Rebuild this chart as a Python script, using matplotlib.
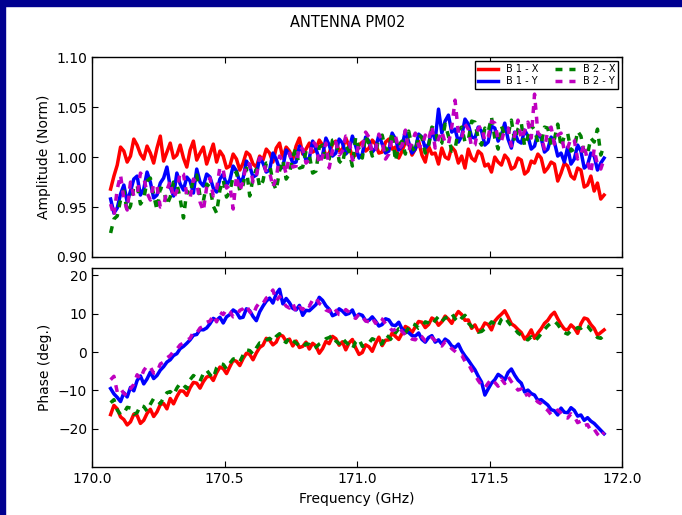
import numpy as np
import matplotlib.pyplot as plt
from matplotlib import rcParams
from matplotlib.patches import Rectangle

rcParams['font.family'] = 'DejaVu Sans'
rcParams['font.size'] = 10
rcParams['xtick.direction'] = 'in'
rcParams['ytick.direction'] = 'in'
rcParams['xtick.top'] = True
rcParams['ytick.right'] = True
rcParams['xtick.major.size'] = 4
rcParams['ytick.major.size'] = 4
rcParams['axes.linewidth'] = 1.0

# channel frequencies (GHz)
freq = np.linspace(170.07, 171.9325, 150)

# normalised amplitude
amp_b1x = [0.968, 0.981, 0.992, 1.010, 1.006, 0.995, 1.001, 1.018, 1.012, 1.003,
           0.998, 1.011, 1.004, 0.994, 1.009, 1.021, 0.996, 1.005, 1.014, 0.999,
           1.002, 1.012, 0.999, 0.990, 1.007, 1.016, 0.997, 1.004, 1.010, 0.993,
           1.003, 1.013, 0.995, 1.006, 1.001, 0.989, 0.991, 1.003, 0.998, 0.987,
           0.994, 1.005, 1.002, 0.993, 0.990, 1.001, 0.997, 1.008, 1.004, 0.995,
           1.009, 1.014, 0.999, 1.010, 1.006, 0.998, 1.011, 1.019, 1.003, 1.008,
           1.014, 1.005, 1.007, 1.017, 1.012, 1.001, 1.004, 1.013, 1.016, 1.006,
           1.008, 1.019, 1.011, 1.000, 1.002, 1.012, 1.015, 1.006, 1.009, 1.017,
           1.013, 1.004, 1.005, 1.015, 1.018, 1.008, 1.010, 0.999, 1.006, 1.015,
           1.013, 1.002, 1.008, 1.016, 1.002, 0.995, 1.011, 1.003, 1.004, 0.993,
           1.009, 1.000, 0.998, 1.010, 1.006, 0.994, 1.001, 0.989, 1.008, 0.999,
           0.996, 1.006, 1.003, 0.991, 0.993, 0.985, 1.000, 0.995, 0.992, 1.002,
           0.998, 0.988, 0.990, 0.999, 0.997, 0.983, 0.986, 0.996, 0.994, 1.003,
           0.999, 0.985, 0.989, 0.995, 0.993, 0.976, 0.984, 0.994, 0.991, 0.981,
           0.978, 0.989, 0.987, 0.970, 0.972, 0.981, 0.966, 0.974, 0.958, 0.962]
amp_b1y = [0.958, 0.944, 0.949, 0.963, 0.972, 0.955, 0.966, 0.978, 0.981, 0.962,
           0.968, 0.985, 0.975, 0.959, 0.962, 0.974, 0.979, 0.990, 0.970, 0.961,
           0.984, 0.973, 0.967, 0.980, 0.976, 0.964, 0.988, 0.975, 0.971, 0.983,
           0.980, 0.969, 0.965, 0.978, 0.983, 0.972, 0.977, 0.991, 0.986, 0.975,
           0.979, 0.996, 0.991, 0.980, 0.982, 0.999, 0.994, 0.985, 0.987, 1.004,
           0.998, 0.988, 0.990, 1.007, 1.003, 0.994, 0.995, 1.011, 1.006, 0.997,
           0.999, 1.016, 1.008, 0.998, 1.002, 1.019, 1.012, 1.001, 1.004, 1.018,
           1.014, 1.003, 1.007, 1.021, 1.011, 0.999, 1.003, 1.020, 1.016, 1.005,
           1.009, 1.022, 1.013, 1.004, 1.006, 1.024, 1.018, 1.007, 1.011, 1.026,
           1.015, 1.004, 1.008, 1.023, 1.020, 1.009, 1.013, 1.027, 1.017, 1.048,
           1.024, 1.036, 1.042, 1.025, 1.028, 1.015, 1.021, 1.038, 1.033, 1.020,
           1.019, 1.030, 1.026, 1.012, 1.015, 1.031, 1.029, 1.016, 1.022, 1.034,
           1.018, 1.009, 1.025, 1.016, 1.014, 1.027, 1.021, 1.008, 1.011, 1.024,
           1.019, 1.005, 1.008, 1.020, 1.015, 1.001, 1.004, 0.995, 1.010, 0.993,
           0.998, 1.012, 1.006, 0.989, 0.992, 1.004, 1.001, 0.987, 0.994, 0.999]
amp_b2x = [0.924, 0.938, 0.941, 0.957, 0.966, 0.945, 0.951, 0.970, 0.972, 0.953,
           0.958, 0.976, 0.979, 0.962, 0.947, 0.969, 0.968, 0.952, 0.960, 0.975,
           0.974, 0.958, 0.939, 0.966, 0.963, 0.978, 0.982, 0.961, 0.956, 0.973,
           0.970, 0.951, 0.944, 0.967, 0.977, 0.960, 0.965, 0.981, 0.985, 0.966,
           0.972, 0.989, 0.961, 0.979, 0.988, 0.970, 0.976, 0.994, 0.993, 0.975,
           0.967, 0.986, 0.997, 0.978, 0.983, 1.001, 1.009, 0.989, 0.990, 1.006,
           1.002, 0.984, 0.986, 1.010, 1.012, 0.995, 0.998, 1.017, 1.018, 0.996,
           0.993, 1.011, 1.006, 0.991, 1.020, 1.008, 0.999, 1.022, 1.013, 1.001,
           1.004, 1.019, 1.022, 1.007, 1.009, 1.025, 0.996, 1.012, 1.016, 1.003,
           1.026, 1.010, 1.005, 1.023, 1.019, 1.004, 1.011, 1.030, 1.028, 1.012,
           1.014, 1.033, 1.021, 1.006, 1.008, 1.027, 1.030, 1.015, 1.017, 1.036,
           1.035, 1.018, 1.012, 1.029, 1.025, 1.040, 1.019, 1.008, 1.031, 1.022,
           1.022, 1.037, 1.016, 1.028, 1.034, 1.011, 1.020, 1.032, 1.027, 1.015,
           1.013, 1.030, 1.029, 1.012, 1.018, 1.033, 1.010, 1.021, 1.024, 1.006,
           1.008, 1.026, 1.021, 1.004, 1.003, 1.019, 1.015, 1.028, 1.002, 1.012]
amp_b2y = [0.953, 0.941, 0.968, 0.982, 0.958, 0.947, 0.975, 0.961, 0.962, 0.984,
           0.980, 0.964, 0.957, 0.973, 0.971, 0.950, 0.951, 0.967, 0.976, 0.959,
           0.966, 0.985, 0.983, 0.962, 0.959, 0.978, 0.974, 0.955, 0.946, 0.970,
           0.979, 0.961, 0.968, 0.990, 0.987, 0.969, 0.972, 0.948, 0.981, 0.966,
           0.976, 0.994, 0.993, 0.975, 0.981, 0.999, 0.998, 0.984, 0.985, 0.970,
           0.979, 1.001, 0.996, 0.983, 1.004, 0.990, 0.991, 1.011, 1.008, 0.994,
           0.997, 1.016, 1.012, 0.993, 1.001, 1.014, 0.989, 1.007, 1.015, 1.002,
           1.006, 1.021, 1.018, 0.997, 0.999, 1.014, 1.011, 1.025, 1.020, 1.004,
           1.007, 1.023, 1.016, 0.998, 1.003, 1.019, 1.021, 1.008, 1.012, 1.027,
           1.006, 1.015, 1.024, 1.011, 1.010, 1.022, 1.017, 1.031, 1.009, 1.018,
           1.026, 1.014, 1.013, 1.030, 1.057, 1.024, 1.019, 1.033, 1.028, 1.010,
           1.012, 1.029, 1.031, 1.016, 1.020, 1.036, 1.034, 1.018, 1.016, 1.028,
           1.029, 1.011, 1.022, 1.037, 1.018, 1.026, 1.035, 1.019, 1.063, 1.024,
           1.021, 1.008, 1.027, 1.030, 1.013, 1.022, 1.024, 1.006, 1.009, 1.019,
           1.017, 0.998, 1.003, 1.013, 0.995, 0.984, 1.008, 0.992, 0.988, 0.998]

# phase (deg.)
ph_b1x = [-16.3, -13.9, -14.8, -16.9, -17.6, -19.0, -18.2, -16.2, -16.5, -18.6,
          -17.8, -16.0, -14.9, -16.8, -15.6, -13.7, -13.4, -14.8, -12.1, -13.5,
          -11.6, -10.1, -10.2, -11.3, -9.3, -7.9, -8.1, -9.4, -7.7, -6.5,
          -6.2, -7.4, -5.4, -3.9, -4.3, -5.6, -3.8, -2.1, -2.4, -3.5,
          -1.7, -0.3, -0.6, -2.0, -0.2, 1.2, 1.8, 3.6, 3.1, 1.9,
          2.6, 4.5, 4.2, 2.8, 3.4, 1.6, 2.9, 1.2, 1.5, 2.6,
          0.8, 2.3, 1.6, -0.3, 0.9, 2.8, 2.2, 4.1, 3.5, 1.8,
          2.7, 0.6, 2.4, 3.3, 1.1, -0.6, -0.1, 1.9, 1.4, 0.2,
          2.3, 3.9, 1.7, 3.1, 3.2, 5.0, 4.1, 3.3, 4.9, 6.7,
          6.2, 5.1, 6.6, 8.0, 7.8, 6.4, 7.2, 8.9, 8.4, 7.0,
          7.9, 9.4, 8.6, 7.5, 9.3, 10.6, 9.8, 8.3, 8.4, 6.2,
          7.1, 5.4, 6.0, 7.6, 7.2, 5.8, 8.1, 9.1, 9.9, 10.8,
          9.2, 7.4, 6.8, 5.9, 5.1, 3.4, 4.3, 5.8, 3.6, 5.0,
          6.1, 7.5, 8.3, 9.6, 10.4, 8.7, 7.2, 6.0, 5.8, 7.1,
          6.3, 4.9, 7.4, 8.9, 8.6, 7.2, 6.2, 4.4, 5.1, 5.8]
ph_b1y = [-9.5, -10.9, -11.8, -12.9, -10.6, -11.7, -9.2, -10.1, -7.4, -6.2,
          -8.3, -7.0, -5.2, -6.9, -6.1, -4.7, -3.8, -2.6, -2.0, -0.9,
          -0.4, 0.9, 1.5, 2.3, 3.2, 4.4, 4.6, 5.9, 5.8, 6.3,
          7.4, 8.8, 8.3, 9.1, 7.6, 9.2, 9.8, 11.0, 10.4, 8.9,
          9.1, 11.3, 10.8, 9.3, 8.2, 10.5, 12.0, 13.3, 14.1, 12.8,
          15.2, 16.4, 12.6, 14.0, 12.9, 11.4, 11.0, 12.2, 9.6, 10.9,
          10.8, 11.6, 12.4, 14.3, 13.5, 12.1, 11.2, 9.5, 9.9, 11.3,
          10.7, 9.8, 10.1, 11.0, 9.0, 9.9, 9.6, 8.2, 8.3, 9.2,
          8.1, 6.8, 7.2, 8.7, 8.4, 7.1, 6.9, 7.8, 6.0, 5.4,
          5.1, 4.3, 4.2, 5.0, 3.3, 2.6, 3.8, 4.3, 2.6, 3.2,
          2.1, 3.4, 2.8, 1.6, 1.2, 2.1, 0.3, -1.0, -2.1, -3.4,
          -4.6, -6.3, -7.8, -11.2, -9.6, -8.1, -7.2, -5.8, -6.4, -7.3,
          -5.3, -4.4, -6.0, -7.3, -8.1, -10.4, -9.9, -10.8, -11.2, -12.6,
          -12.4, -13.1, -13.8, -15.0, -15.3, -16.4, -14.6, -15.7, -15.8, -14.5,
          -15.2, -16.7, -16.4, -17.8, -17.1, -18.0, -18.6, -19.5, -20.4, -21.3]
ph_b2x = [-13.2, -12.4, -15.1, -16.3, -15.9, -14.4, -14.6, -16.2, -15.8, -13.9,
          -14.2, -15.4, -13.6, -12.1, -12.4, -13.5, -11.9, -10.6, -10.3, -11.2,
          -9.4, -8.1, -8.6, -9.5, -7.2, -6.1, -6.8, -7.6, -5.6, -4.7,
          -5.9, -6.8, -4.1, -3.0, -3.2, -4.4, -2.9, -1.8, -1.6, -2.5,
          -0.8, 0.6, 0.4, -0.5, 1.1, 2.4, 2.3, 3.1, 3.6, 2.8,
          4.1, 4.8, 3.2, 2.5, 3.9, 3.0, 2.4, 1.6, 1.2, 2.2,
          2.0, 0.9, 1.3, 2.1, 2.6, 3.5, 3.8, 4.4, 2.9, 2.2,
          3.6, 2.6, 1.9, 0.8, 2.7, 3.4, 1.5, 2.0, 2.4, 3.5,
          3.1, 2.0, 2.2, 4.6, 3.9, 3.1, 5.0, 6.1, 5.8, 5.0,
          6.4, 7.5, 7.1, 6.2, 6.5, 7.9, 7.6, 7.0, 8.3, 9.3,
          8.0, 8.9, 9.2, 10.1, 8.7, 7.8, 8.9, 9.6, 7.6, 6.7,
          6.3, 5.2, 5.4, 6.1, 6.8, 7.9, 7.4, 6.6, 8.6, 9.2,
          7.9, 6.8, 6.1, 5.0, 4.4, 3.5, 3.2, 4.0, 2.9, 3.7,
          4.8, 5.9, 6.9, 7.6, 8.1, 7.2, 6.0, 5.1, 4.7, 5.6,
          5.5, 6.4, 6.2, 7.1, 6.8, 5.7, 4.9, 3.8, 3.6, 4.5]
ph_b2y = [-7.2, -6.3, -10.4, -9.5, -10.8, -11.3, -9.6, -8.4, -5.9, -7.0,
          -4.8, -3.6, -3.9, -5.5, -5.2, -3.1, -2.6, -1.5, -0.9, 0.2,
          0.8, 1.9, 2.4, 3.1, 3.6, 5.2, 5.0, 6.3, 6.7, 7.8,
          8.1, 9.6, 7.9, 10.4, 9.8, 11.2, 10.6, 9.2, 9.4, 10.9,
          11.3, 12.2, 10.5, 9.7, 11.8, 13.0, 12.7, 14.1, 14.8, 16.2,
          13.4, 14.5, 13.2, 12.0, 11.5, 12.8, 10.4, 11.7, 11.1, 12.6,
          12.0, 13.6, 14.2, 12.7, 12.1, 11.0, 10.6, 11.9, 10.9, 9.8,
          9.7, 11.1, 10.4, 9.3, 8.8, 10.0, 9.2, 8.1, 7.9, 8.9,
          7.5, 9.1, 8.6, 7.4, 6.8, 5.6, 5.9, 6.6, 5.4, 4.5,
          4.1, 3.4, 3.2, 4.6, 4.0, 2.9, 2.7, 3.8, 3.0, 1.9,
          1.6, 2.7, 1.9, 0.9, 0.2, -0.6, -0.8, -2.4, -3.0, -4.7,
          -5.9, -7.4, -8.6, -9.3, -8.1, -7.0, -7.9, -8.9, -7.0, -8.2,
          -6.4, -7.7, -8.8, -9.9, -9.6, -11.4, -10.9, -11.8, -12.1, -13.0,
          -13.5, -14.6, -15.2, -16.3, -16.0, -15.1, -15.9, -17.0, -17.2, -16.1,
          -16.8, -18.4, -18.0, -19.2, -18.9, -20.5, -20.1, -21.4, -22.3, -20.9]

labels = ['B 1 - X', 'B 1 - Y', 'B 2 - X', 'B 2 - Y']
colors = ['red', 'blue', 'green', 'm']
styles = ['-', '-', '--', '--']

fig = plt.figure(figsize=(6.82, 5.15), dpi=100)
fig.patches.append(Rectangle((0, 0.988), 1, 0.012, transform=fig.transFigure,
                             color='#000090', zorder=-1))
fig.patches.append(Rectangle((0, 0), 0.0075, 1, transform=fig.transFigure,
                             color='#000090', zorder=-1))

ax1 = fig.add_axes([0.135, 0.501, 0.777, 0.388])
ax2 = fig.add_axes([0.135, 0.093, 0.777, 0.387], sharex=ax1)

def draw(ax, series, with_labels):
    for y, c, ls, lab in zip(series, colors, styles, labels):
        kw = dict(color=c, lw=2.5, label=lab if with_labels else None)
        if ls == '--':
            kw['dashes'] = (2, 2)
        ax.plot(freq, y, **kw)

draw(ax1, [amp_b1x, amp_b1y, amp_b2x, amp_b2y], True)
draw(ax2, [ph_b1x, ph_b1y, ph_b2x, ph_b2y], False)

ax1.set_ylim(0.90, 1.10)
ax1.set_yticks([0.90, 0.95, 1.00, 1.05, 1.10])
ax1.set_ylabel('Amplitude (Norm)')
ax1.tick_params(labelbottom=False)
ax1.legend(loc='upper right', ncol=2, fontsize=7, handlelength=2.0,
           fancybox=False, edgecolor='black', framealpha=1,
           borderpad=0.3, labelspacing=0.2, columnspacing=1.8,
           borderaxespad=0.4)

ax2.set_xlim(170.0, 172.0)
ax2.set_xticks([170.0, 170.5, 171.0, 171.5, 172.0])
ax2.set_xticklabels(['170.0', '170.5', '171.0', '171.5', '172.0'])
ax2.set_ylim(-30, 22)
ax2.set_yticks([-20, -10, 0, 10, 20])
ax2.set_ylabel('Phase (deg.)')
ax2.set_xlabel('Frequency (GHz)')

fig.text(0.51, 0.957, 'ANTENNA PM02', ha='center', va='center', fontsize=10.5)

fig.savefig('out.png', dpi=100)
